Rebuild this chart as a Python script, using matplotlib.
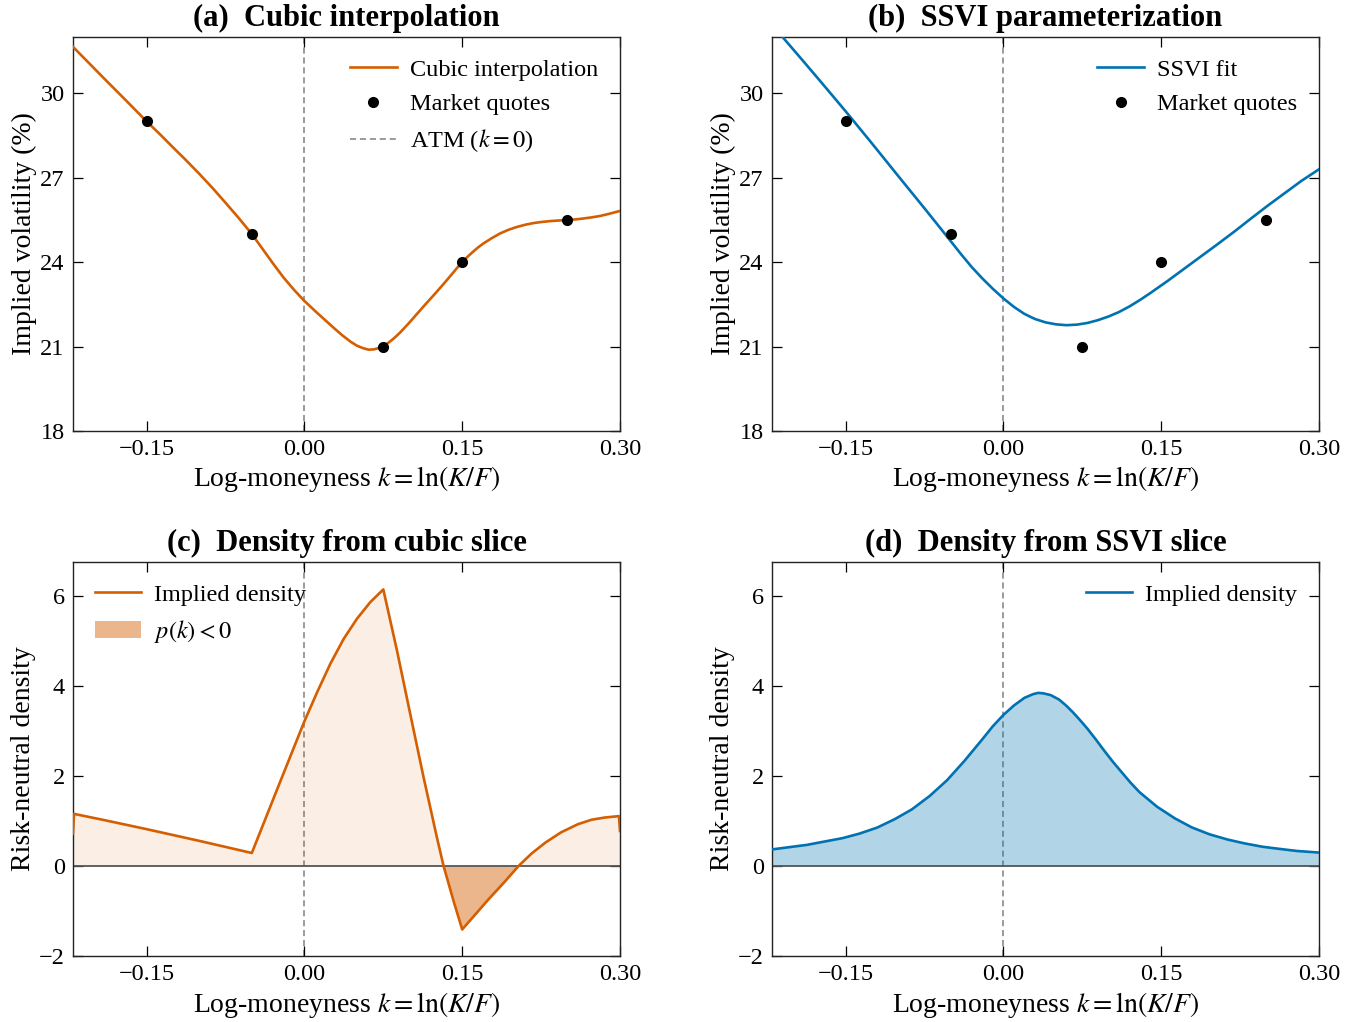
import matplotlib
matplotlib.use("Agg")
import matplotlib.pyplot as plt
import numpy as np

plt.rcParams["font.family"] = ["Liberation Serif", "DejaVu Serif"]
plt.rcParams["mathtext.fontset"] = "stix"

ORANGE = "#d55e00"
BLUE = "#0072b2"

# market quotes (log-moneyness, implied vol in %)
quote_k = [-0.15, -0.05, 0.075, 0.15, 0.25]
quote_vol = [29.0, 25.0, 21.0, 24.0, 25.5]

# (a) cubic interpolated smile
cubic_k = [-0.22, -0.205, -0.19, -0.17, -0.15, -0.1375, -0.125, -0.1125, -0.10, -0.0875,
           -0.075, -0.0625, -0.05, -0.04, -0.03, -0.02, -0.01, 0.00, 0.012, 0.02,
           0.028, 0.036, 0.044, 0.05, 0.056, 0.061, 0.066, 0.071, 0.075, 0.08,
           0.085, 0.091, 0.099, 0.107, 0.115, 0.123, 0.131, 0.139, 0.145, 0.15,
           0.155, 0.16, 0.165, 0.17, 0.178, 0.186, 0.194, 0.202, 0.21, 0.218,
           0.226, 0.234, 0.242, 0.25, 0.258, 0.265, 0.273, 0.281, 0.29, 0.30]
cubic_vol = [31.65, 31.08, 30.51, 29.76, 29.00, 28.55, 28.08, 27.62, 27.14, 26.64,
             26.11, 25.57, 25.00, 24.48, 23.96, 23.46, 23.02, 22.62, 22.20, 21.93,
             21.66, 21.40, 21.17, 21.03, 20.94, 20.89, 20.90, 20.95, 21.02, 21.14,
             21.29, 21.50, 21.82, 22.16, 22.50, 22.83, 23.17, 23.52, 23.79, 24.00,
             24.19, 24.36, 24.52, 24.66, 24.85, 25.02, 25.15, 25.25, 25.33, 25.39,
             25.43, 25.46, 25.48, 25.50, 25.52, 25.55, 25.59, 25.64, 25.72, 25.82]

# (b) SSVI fit
ssvi_k = [-0.22, -0.21, -0.19, -0.17, -0.15, -0.125, -0.10, -0.075, -0.06, -0.05,
          -0.04, -0.03, -0.02, -0.01, 0.00, 0.01, 0.02, 0.03, 0.04, 0.05,
          0.06, 0.07, 0.08, 0.09, 0.10, 0.11, 0.12, 0.13, 0.14, 0.156,
          0.172, 0.188, 0.204, 0.22, 0.235, 0.251, 0.267, 0.283, 0.30]
ssvi_vol = [32.45, 32.00, 31.13, 30.25, 29.36, 28.22, 27.06, 25.91, 25.21, 24.74,
            24.27, 23.82, 23.42, 23.05, 22.71, 22.41, 22.16, 21.98, 21.86, 21.79,
            21.76, 21.78, 21.84, 21.94, 22.07, 22.23, 22.43, 22.66, 22.91, 23.33,
            23.77, 24.21, 24.65, 25.10, 25.54, 26.00, 26.44, 26.88, 27.30]

# (c) density implied by the cubic slice
cub_dens_k = [-0.22, -0.219, -0.19, -0.15, -0.10, -0.05, -0.025, 0.00, 0.012, 0.0247,
              0.0373, 0.05, 0.0627, 0.075, 0.088, 0.1006, 0.1133, 0.126, 0.1323, 0.1418,
              0.15, 0.1625, 0.175, 0.19, 0.2035, 0.216, 0.229, 0.244, 0.26, 0.273,
              0.286, 0.299, 0.30]
cub_dens = [0.72, 1.16, 1.02, 0.82, 0.56, 0.29, 1.76, 3.22, 3.86, 4.50,
            5.05, 5.50, 5.87, 6.15, 4.79, 3.38, 1.97, 0.63, 0.0, -0.78,
            -1.41, -1.075, -0.74, -0.36, 0.0, 0.28, 0.52, 0.75, 0.93, 1.03,
            1.08, 1.11, 0.78]

# (d) density implied by the SSVI slice
ssvi_dens_k = [-0.22, -0.187, -0.153, -0.137, -0.12, -0.1035, -0.087, -0.07, -0.0535, -0.037,
               -0.02, -0.01, 0.0, 0.01, 0.02, 0.028, 0.033, 0.038, 0.045, 0.053,
               0.06, 0.066, 0.073, 0.08, 0.088, 0.096, 0.104, 0.113, 0.121, 0.1295,
               0.146, 0.163, 0.179, 0.196, 0.213, 0.229, 0.246, 0.263, 0.279, 0.30]
ssvi_dens = [0.37, 0.47, 0.62, 0.72, 0.855, 1.04, 1.26, 1.56, 1.91, 2.34,
             2.82, 3.11, 3.36, 3.57, 3.74, 3.82, 3.85, 3.84, 3.80, 3.70,
             3.56, 3.42, 3.24, 3.05, 2.81, 2.56, 2.32, 2.07, 1.85, 1.64,
             1.32, 1.06, 0.86, 0.705, 0.59, 0.505, 0.43, 0.38, 0.335, 0.30]

xticks = [-0.15, 0.0, 0.15, 0.30]
vol_ticks = [18, 21, 24, 27, 30]
dens_ticks = [-2, 0, 2, 4, 6]
XLAB = r"Log-moneyness $k=\ln(K/F)$"
DASH = (0, (4, 2.5))

fig = plt.figure(figsize=(13.65, 10.22), dpi=100)
W, H = 1365, 1022
boxes = {"a": (73, 37), "b": (772, 37), "c": (73, 562), "d": (772, 562)}
axs = {}
for key, (x0, y0) in boxes.items():
    axs[key] = fig.add_axes([x0 / W, 1 - (y0 + 394) / H, 547 / W, 394 / H])

LEG = dict(frameon=False, fontsize=17.5, handlelength=1.9, handletextpad=0.55,
           labelspacing=0.5, borderaxespad=0.5)


def style(ax):
    ax.tick_params(direction="in", top=True, right=True, length=7, width=0.9,
                   labelsize=17.5, pad=6)
    for s in ax.spines.values():
        s.set_linewidth(1.0)
        s.set_color("#222")
    ax.set_xlim(-0.22, 0.30)
    ax.set_xticks(xticks)
    ax.set_xticklabels([f"{t:.2f}".replace("-", "\u2212") for t in xticks])
    ax.set_xlabel(XLAB, fontsize=20, labelpad=3)
    ax.axvline(0, color="#808080", lw=1.1, ls=DASH, zorder=1)


def smile(ax, k, v, color, label, title, atm_label):
    style(ax)
    ax.plot(k, v, color=color, lw=1.9, label=label, zorder=3)
    ax.plot(quote_k, quote_vol, "o", color="k", ms=7, label="Market quotes", zorder=4)
    ax.set_ylim(18, 32)
    ax.set_yticks(vol_ticks)
    ax.set_ylabel("Implied volatility (%)", fontsize=20, labelpad=2)
    ax.set_title(title, fontsize=22, fontweight="bold", pad=8)
    h, l = ax.get_legend_handles_labels()
    if atm_label:
        h.append(plt.Line2D([], [], color="#808080", lw=1.1, ls=DASH))
        l.append(r"ATM ($k=0$)")
    ax.legend(h, l, loc="upper right", **LEG)


def density(ax, k, d, color, title, neg):
    style(ax)
    k = np.asarray(k); d = np.asarray(d)
    ax.axhline(0, color="#555", lw=1.3, zorder=2)
    ax.plot(k, d, color=color, lw=1.9, label="Implied density", zorder=3)
    if neg:
        ax.fill_between(k, d, 0, where=d >= 0, interpolate=True, color=color,
                        alpha=0.1, lw=0)
        ax.fill_between(k, d, 0, where=d < 0, interpolate=True, color=color,
                        alpha=0.45, lw=0, label=r"$p(k)<0$")
        ax.legend(loc="upper left", **LEG)
    else:
        ax.fill_between(k, d, 0, color=color, alpha=0.3, lw=0)
        ax.legend(loc="upper right", **LEG)
    ax.set_ylim(-2, 6.76)
    ax.set_yticks(dens_ticks)
    ax.set_yticklabels([str(t).replace("-", "\u2212") for t in dens_ticks])
    ax.set_ylabel("Risk-neutral density", fontsize=20, labelpad=2)
    ax.set_title(title, fontsize=22, fontweight="bold", pad=8)


smile(axs["a"], cubic_k, cubic_vol, ORANGE, "Cubic interpolation",
      "(a)  Cubic interpolation", True)
smile(axs["b"], ssvi_k, ssvi_vol, BLUE, "SSVI fit", "(b)  SSVI parameterization", False)
density(axs["c"], cub_dens_k, cub_dens, ORANGE, "(c)  Density from cubic slice", True)
density(axs["d"], ssvi_dens_k, ssvi_dens, BLUE, "(d)  Density from SSVI slice", False)

fig.savefig("out.png", dpi=100)
